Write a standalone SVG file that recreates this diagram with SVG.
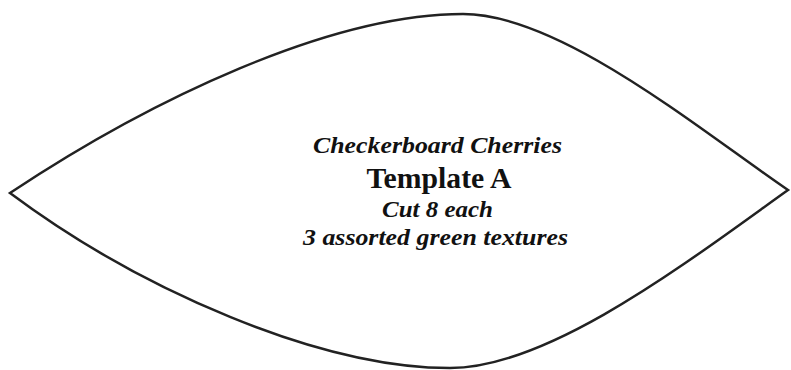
<svg xmlns="http://www.w3.org/2000/svg" width="791" height="370" viewBox="0 0 791 370">
<style>
.outline{fill:#fff;stroke:#222;stroke-width:2.5;stroke-linejoin:miter}
.t{font-family:"Liberation Serif","Times New Roman",serif;fill:#111;text-anchor:middle;font-weight:bold}
.i{font-style:italic}
</style>
<rect width="791" height="370" fill="#fff"/>
<g id="template-a">
<path class="outline" d="M10,193 C150,100 330,14 463,14 C560,14 700,130 788,190 C690,260 550,368 450,368 C320,368 140,290 10,193 Z"/>
<text class="t i" x="437.5" y="153" font-size="24" textLength="249" lengthAdjust="spacingAndGlyphs">Checkerboard Cherries</text>
<text class="t" x="439" y="188" font-size="30" textLength="145" lengthAdjust="spacingAndGlyphs">Template A</text>
<text class="t i" x="437.5" y="217" font-size="24" textLength="111" lengthAdjust="spacingAndGlyphs">Cut 8 each</text>
<text class="t i" x="435.5" y="245" font-size="24" textLength="265" lengthAdjust="spacingAndGlyphs">3 assorted green textures</text>
</g>
</svg>
